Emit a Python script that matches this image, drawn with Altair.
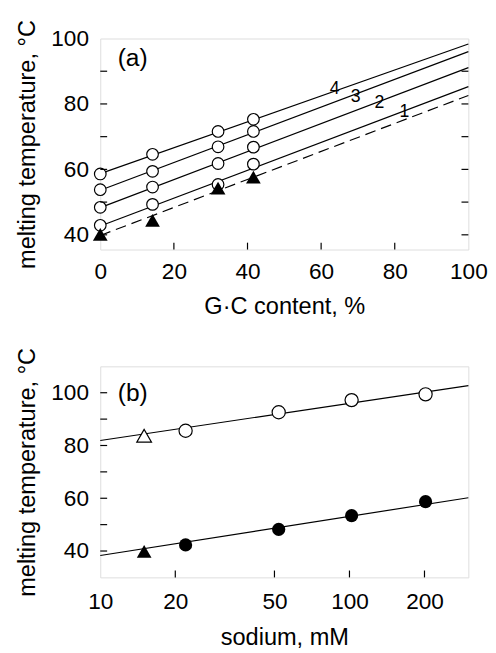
import altair as alt
import pandas as pd

FONT = "Liberation Sans"

# ---------- panel (a) data ----------
gc_x = [0, 14.2, 32, 41.6]
tm_s4 = [58.6, 64.6, 71.6, 75.3]
tm_s3 = [53.8, 59.4, 66.9, 71.6]
tm_s2 = [48.4, 54.6, 61.8, 66.8]
tm_s1 = [42.9, 49.3, 55.4, 61.6]
tm_tri = [40.1, 44.4, 54.3, 57.6]

fit_x = [0, 100]
fit_s4 = [58.7, 98.3]
fit_s3 = [53.6, 96.0]
fit_s2 = [48.3, 91.1]
fit_s1 = [42.7, 85.3]
fit_dash = [39.8, 82.6]

lab_text = ["4", "3", "2", "1"]
lab_x = [63.7, 69.4, 75.8, 82.6]
lab_y = [84.4, 82.0, 80.3, 77.6]

a_xticks = [20, 40, 60, 80]
a_yticks = [40, 50, 60, 70, 80, 90]
a_xlabels = [0, 20, 40, 60, 80, 100]
a_ylabels = [40, 60, 80, 100]

# ---------- panel (b) data ----------
na_x = [22, 52, 102, 202]
tm_open = [85.6, 92.6, 97.2, 99.4]
tm_fill = [42.3, 48.2, 53.4, 58.7]
na_tri_x = [15]
tm_open_tri = [83.7]
tm_fill_tri = [39.9]
fitb_x = [10, 300]
fitb_top = [81.9, 102.7]
fitb_bot = [38.3, 60.2]

b_xticks = [20, 50, 100, 200]
b_yticks = [40, 50, 60, 70, 80, 90, 100]
b_xlabels = [10, 20, 50, 100, 200]
b_ylabels = [40, 60, 80, 100]

W, H = 375, 215
TL = 7  # tick length
SW = 1.2
LBL = 23
TTL = 24

# ---------- panel (a) ----------
xa = alt.Scale(domain=[0, 100], nice=False, zero=False)
ya = alt.Scale(domain=[35.5, 100], nice=False, zero=False)

axis_common = dict(ticks=False, domain=False, grid=False, labelFontSize=LBL,
                   titleFontSize=TTL, labelFont=FONT, titleFont=FONT,
                   labelColor="black", titleColor="black",
                   titleFontWeight="normal", labelFlush=False)

ax_a_x = alt.Axis(values=a_xlabels, title="G·C content, %", labelPadding=12,
                  titlePadding=11, **axis_common)
ax_a_y = alt.Axis(values=a_ylabels, title="melting temperature, °C",
                  labelPadding=12, titlePadding=12, **axis_common)

rows = []
for name, ys in [("4", fit_s4), ("3", fit_s3), ("2", fit_s2), ("1", fit_s1)]:
    for x, y in zip(fit_x, ys):
        rows.append({"x": x, "y": y, "s": name})
df_fit = pd.DataFrame(rows)
df_dash = pd.DataFrame({"x": fit_x, "y": fit_dash})

rows = []
for ys in [tm_s4, tm_s3, tm_s2, tm_s1]:
    for x, y in zip(gc_x, ys):
        rows.append({"x": x, "y": y})
df_circ = pd.DataFrame(rows)
df_tri = pd.DataFrame({"x": gc_x, "y": tm_tri})
df_lab = pd.DataFrame({"x": lab_x, "y": lab_y, "t": lab_text})

enc_x = alt.X("x:Q", scale=xa, axis=ax_a_x)
enc_y = alt.Y("y:Q", scale=ya, axis=ax_a_y)

a_lines = alt.Chart(df_fit).mark_line(color="black", strokeWidth=SW).encode(
    x=enc_x, y=enc_y, detail="s:N")
a_dash = alt.Chart(df_dash).mark_line(color="black", strokeWidth=SW, strokeDash=[11, 6]).encode(
    x="x:Q", y="y:Q")
a_circ = alt.Chart(df_circ).mark_point(shape="circle", filled=True, fill="white",
                                       stroke="black", strokeWidth=SW, size=140, opacity=1).encode(
    x="x:Q", y="y:Q")
a_tri = alt.Chart(df_tri).mark_point(shape="triangle-up", filled=True, color="black",
                                     size=225, opacity=1).encode(x="x:Q", y="y:Q")
a_lab = alt.Chart(df_lab).mark_text(font=FONT, fontSize=18, color="black").encode(
    x="x:Q", y="y:Q", text="t:N")
a_panel = alt.Chart(pd.DataFrame({"x": [8.8], "y": [94], "t": ["(a)"]})).mark_text(
    font=FONT, fontSize=25, color="black").encode(x="x:Q", y="y:Q", text="t:N")

a_xt = alt.Chart(pd.DataFrame({"x": a_xticks})).mark_rule(color="black", strokeWidth=SW).encode(
    x="x:Q", y=alt.value(H), y2=alt.value(H - TL))
a_yt = alt.Chart(pd.DataFrame({"y": a_yticks})).mark_rule(color="black", strokeWidth=SW).encode(
    y="y:Q", x=alt.value(0), x2=alt.value(TL))
a_yt_r = alt.Chart(pd.DataFrame({"y": a_yticks})).mark_rule(color="black", strokeWidth=SW).encode(
    y="y:Q", x=alt.value(W), x2=alt.value(W - TL))

chart_a = alt.layer(a_lines, a_dash, a_circ, a_tri, a_lab, a_panel, a_xt, a_yt, a_yt_r).properties(
    width=W, height=H)

# ---------- panel (b) ----------
xb = alt.Scale(type="log", domain=[10, 300], nice=False)
yb = alt.Scale(domain=[30, 110], nice=False, zero=False)
ax_b_x = alt.Axis(values=b_xlabels, format="d", title="sodium, mM", labelPadding=14,
                  titlePadding=12, labelOverlap=False, **axis_common)
ax_b_y = alt.Axis(values=b_ylabels, title="melting temperature, °C",
                  labelPadding=12, titlePadding=12, **axis_common)

df_fb = pd.DataFrame(
    [{"x": x, "y": y, "s": "top"} for x, y in zip(fitb_x, fitb_top)] +
    [{"x": x, "y": y, "s": "bot"} for x, y in zip(fitb_x, fitb_bot)])
df_oc = pd.DataFrame({"x": na_x, "y": tm_open})
df_fc = pd.DataFrame({"x": na_x, "y": tm_fill})
df_ot = pd.DataFrame({"x": na_tri_x, "y": tm_open_tri})
df_ft = pd.DataFrame({"x": na_tri_x, "y": tm_fill_tri})

b_lines = alt.Chart(df_fb).mark_line(color="black", strokeWidth=SW).encode(
    x=alt.X("x:Q", scale=xb, axis=ax_b_x), y=alt.Y("y:Q", scale=yb, axis=ax_b_y), detail="s:N")
b_oc = alt.Chart(df_oc).mark_point(shape="circle", filled=True, fill="white", stroke="black",
                                   strokeWidth=SW, size=180, opacity=1).encode(x="x:Q", y="y:Q")
b_fc = alt.Chart(df_fc).mark_point(shape="circle", filled=True, color="black",
                                   size=180, opacity=1).encode(x="x:Q", y="y:Q")
b_ot = alt.Chart(df_ot).mark_point(shape="triangle-up", filled=True, fill="white", stroke="black",
                                   strokeWidth=SW, size=225, opacity=1).encode(x="x:Q", y="y:Q")
b_ft = alt.Chart(df_ft).mark_point(shape="triangle-up", filled=True, color="black",
                                   size=225, opacity=1).encode(x="x:Q", y="y:Q")
b_panel = alt.Chart(pd.DataFrame({"x": [13.5], "y": [100], "t": ["(b)"]})).mark_text(
    font=FONT, fontSize=25, color="black").encode(x="x:Q", y="y:Q", text="t:N")
b_xt = alt.Chart(pd.DataFrame({"x": b_xticks})).mark_rule(color="black", strokeWidth=SW).encode(
    x="x:Q", y=alt.value(H), y2=alt.value(H - TL))
b_yt = alt.Chart(pd.DataFrame({"y": b_yticks})).mark_rule(color="black", strokeWidth=SW).encode(
    y="y:Q", x=alt.value(0), x2=alt.value(TL))

chart_b = alt.layer(b_lines, b_oc, b_fc, b_ot, b_ft, b_panel, b_xt, b_yt).properties(
    width=W, height=H)

chart = alt.vconcat(chart_a, chart_b, spacing=119, bounds="flush").properties(
    padding={"left": 7, "top": 5, "right": 0, "bottom": 0}
).configure_view(stroke="black", strokeWidth=SW).configure(background="white")

chart.save("out.html", embed_options={"renderer": "svg", "actions": False})
